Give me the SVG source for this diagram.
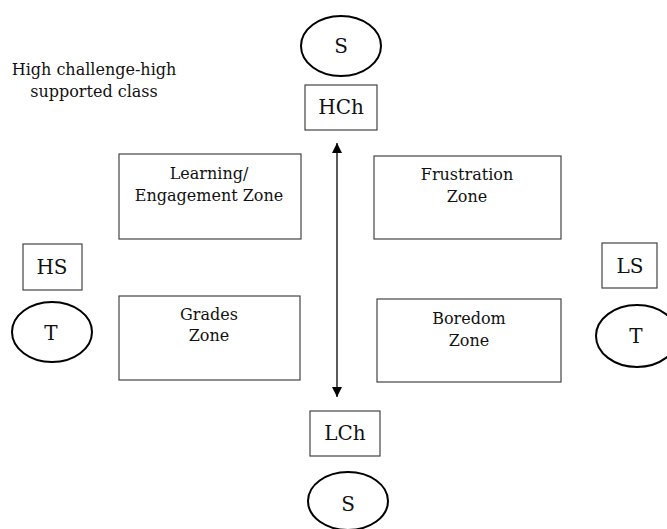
<svg xmlns="http://www.w3.org/2000/svg" width="667" height="529" viewBox="0 0 667 529">
<style>
text{font-family:"DejaVu Serif","Liberation Serif",serif;font-size:16px;fill:#111;text-anchor:middle}
text.lbl{font-size:20px}
.box{fill:#fff;stroke:#444;stroke-width:1.2}
.ell{fill:#fff;stroke:#000;stroke-width:2}
.conn{stroke:#000;stroke-width:1.3;fill:none}
</style>
<defs>
<marker id="ah" viewBox="0 0 10 10" refX="10" refY="5" markerWidth="10" markerHeight="10" markerUnits="userSpaceOnUse" orient="auto">
<path d="M0,0 L10,5 L0,10 z" fill="#000"/>
</marker>
</defs>
<rect width="667" height="529" fill="#fff"/>
<g id="title">
<text x="94" y="75">High challenge-high</text>
<text x="94" y="97">supported class</text>
</g>
<g id="connectors">
<line class="conn" x1="337" y1="270" x2="337" y2="143" marker-end="url(#ah)"/>
<line class="conn" x1="337" y1="270" x2="337" y2="397" marker-end="url(#ah)"/>
</g>
<g id="s-top"><ellipse class="ell" cx="341" cy="46" rx="40" ry="30"/><text class="lbl" x="341" y="53">S</text></g>
<g id="hch"><rect class="box" x="305" y="85" width="72" height="45"/><text class="lbl" x="341" y="114">HCh</text></g>
<g id="learning"><rect class="box" x="119" y="154" width="182" height="85"/><text x="209" y="179">Learning/</text><text x="209" y="201">Engagement Zone</text></g>
<g id="frustration"><rect class="box" x="374" y="156" width="187" height="83"/><text x="467" y="180">Frustration</text><text x="467" y="202">Zone</text></g>
<g id="hs"><rect class="box" x="23" y="244" width="59" height="46"/><text class="lbl" x="52" y="274">HS</text></g>
<g id="ls"><rect class="box" x="602" y="243" width="55" height="45"/><text class="lbl" x="630" y="273">LS</text></g>
<g id="t-left"><ellipse class="ell" cx="52" cy="332" rx="40" ry="30"/><text class="lbl" x="51" y="340">T</text></g>
<g id="t-right"><ellipse class="ell" cx="637" cy="336" rx="41" ry="31"/><text class="lbl" x="636" y="343">T</text></g>
<g id="grades"><rect class="box" x="119" y="296" width="181" height="84"/><text x="209" y="320">Grades</text><text x="209" y="341">Zone</text></g>
<g id="boredom"><rect class="box" x="377" y="299" width="184" height="83"/><text x="469" y="324">Boredom</text><text x="469" y="346">Zone</text></g>
<g id="lch"><rect class="box" x="310" y="411" width="70" height="45"/><text class="lbl" x="345" y="440">LCh</text></g>
<g id="s-bottom"><ellipse class="ell" cx="348" cy="501" rx="40" ry="29"/><text class="lbl" x="348" y="511">S</text></g>
</svg>
